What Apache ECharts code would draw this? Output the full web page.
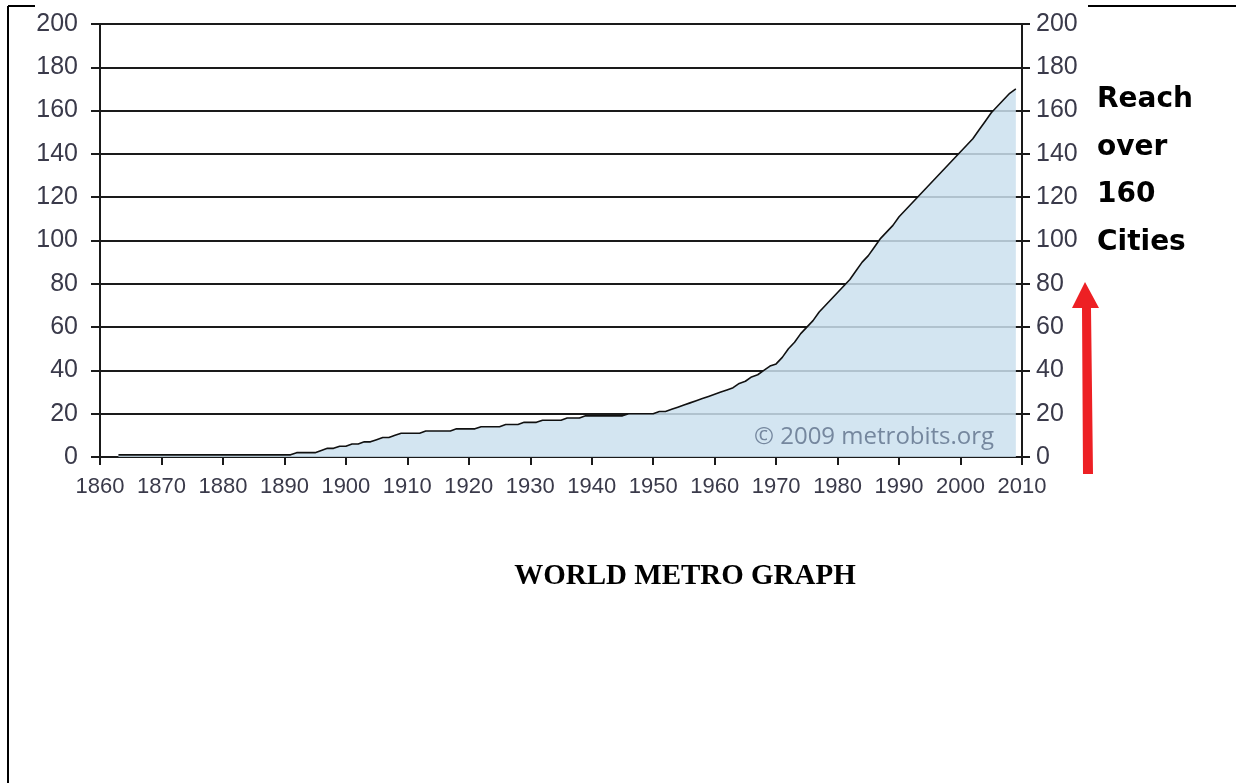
<!DOCTYPE html>
<html><head><meta charset="utf-8">
<script src="https://cdn.jsdelivr.net/npm/echarts@6/dist/echarts.min.js"></script>
<style>html,body{margin:0;padding:0;background:#fff}#c{width:1236px;height:783px}</style>
</head><body><div id="c"></div>
<script>
// ---- data ----
const years = [
  1863,1864,1865,1866,1867,1868,1869,
  1870,1871,1872,1873,1874,1875,1876,1877,1878,1879,
  1880,1881,1882,1883,1884,1885,1886,1887,1888,1889,
  1890,1891,1892,1893,1894,1895,1896,1897,1898,1899,
  1900,1901,1902,1903,1904,1905,1906,1907,1908,1909,
  1910,1911,1912,1913,1914,1915,1916,1917,1918,1919,
  1920,1921,1922,1923,1924,1925,1926,1927,1928,1929,
  1930,1931,1932,1933,1934,1935,1936,1937,1938,1939,
  1940,1941,1942,1943,1944,1945,1946,1947,1948,1949,
  1950,1951,1952,1953,1954,1955,1956,1957,1958,1959,
  1960,1961,1962,1963,1964,1965,1966,1967,1968,1969,
  1970,1971,1972,1973,1974,1975,1976,1977,1978,1979,
  1980,1981,1982,1983,1984,1985,1986,1987,1988,1989,
  1990,1991,1992,1993,1994,1995,1996,1997,1998,1999,
  2000,2001,2002,2003,2004,2005,2006,2007,2008,2009
];
const citiesWithMetro = [
  1,1,1,1,1,1,1,
  1,1,1,1,1,1,1,1,1,1,
  1,1,1,1,1,1,1,1,1,1,
  1,1,2,2,2,2,3,4,4,5,
  5,6,6,7,7,8,9,9,10,11,
  11,11,11,12,12,12,12,12,13,13,
  13,13,14,14,14,14,15,15,15,16,
  16,16,17,17,17,17,18,18,18,19,
  19,19,19,19,19,19,20,20,20,20,
  20,21,21,22,23,24,25,26,27,28,
  29,30,31,32,34,35,37,38,40,42,
  43,46,50,53,57,60,63,67,70,73,
  76,79,82,86,90,93,97,101,104,107,
  111,114,117,120,123,126,129,132,135,138,
  141,144,147,151,155,159,162,165,168,170
];
const chartTitle = 'WORLD METRO GRAPH';
const noteLines = ['Reach', 'over', '160', 'Cities'];
const watermark = '\u00A9 2009 metrobits.org';

// ---- chart ----
const chart = echarts.init(document.getElementById('c'), null, {renderer: 'canvas'});
const axisColor = '#1a1a1a';
const labelColor = '#3a3a4a';
const seriesData = years.map((y, i) => [y, citiesWithMetro[i]]);

const graphics = [
  // page frame
  {type: 'line', shape: {x1: 8, y1: 6, x2: 8, y2: 783}, style: {stroke: '#000', lineWidth: 2}, z: 100},
  {type: 'line', shape: {x1: 8, y1: 6, x2: 35, y2: 6}, style: {stroke: '#000', lineWidth: 2}, z: 100},
  {type: 'line', shape: {x1: 1088, y1: 6, x2: 1236, y2: 6}, style: {stroke: '#000', lineWidth: 2}, z: 100},
  // watermark
  {type: 'text', x: 754, y: 437, z: 100,
   style: {text: watermark, fill: '#75879e', font: '24px "Open Sans"', textAlign: 'left', textVerticalAlign: 'middle'}},
  // title
  {type: 'text', x: 685, y: 577, z: 100,
   style: {text: chartTitle, fill: '#000', font: 'bold 29px "Liberation Serif"', textAlign: 'center', textVerticalAlign: 'middle'}},
  // red arrow
  {type: 'polygon', z: 100,
   shape: {points: [[1082,308],[1072,308],[1085,282],[1099,308],[1091,308],[1093,474],[1083,474]]},
   style: {fill: '#ed2024'}}
];
const noteY = [100, 148, 195, 243];
noteLines.forEach((t, i) => {
  graphics.push({type: 'text', x: 1097, y: noteY[i], z: 100,
    style: {text: t, fill: '#000', font: 'bold 28px "DejaVu Sans"', textAlign: 'left', textVerticalAlign: 'middle'}});
});

const plainNum = v => String(v);
const yCommon = {
  type: 'value', min: 0, max: 200, interval: 20,
  axisLine: {show: true, onZero: false, lineStyle: {color: axisColor, width: 2}},
  axisTick: {show: true, inside: false, lineStyle: {color: axisColor, width: 2}},
  axisLabel: {show: true, fontSize: 25, color: labelColor, formatter: plainNum, fontFamily: '"Liberation Sans", Arial, sans-serif', showMinLabel: true, showMaxLabel: true}
};

chart.setOption({
  animation: false,
  backgroundColor: '#fff',
  grid: {left: 100, right: 214, top: 24, bottom: 326, containLabel: false},
  xAxis: {
    type: 'value', min: 1860, max: 2010, interval: 10,
    axisLine: {show: true, onZero: false, lineStyle: {color: axisColor, width: 2}},
    axisTick: {show: true, length: 8, lineStyle: {color: axisColor, width: 2}},
    axisLabel: {show: true, fontSize: 22, color: labelColor, margin: 19, formatter: plainNum, fontFamily: '"Liberation Sans", Arial, sans-serif', showMinLabel: true, showMaxLabel: true},
    splitLine: {show: false}
  },
  yAxis: [
    Object.assign({}, yCommon, {
      position: 'left',
      axisTick: Object.assign({}, yCommon.axisTick, {length: 9}),
      axisLabel: Object.assign({}, yCommon.axisLabel, {margin: 22}),
      splitLine: {show: true, lineStyle: {color: axisColor, width: 2}}
    }),
    Object.assign({}, yCommon, {
      position: 'right',
      axisTick: Object.assign({}, yCommon.axisTick, {length: 8}),
      axisLabel: Object.assign({}, yCommon.axisLabel, {margin: 14}),
      splitLine: {show: false}
    })
  ],
  series: [{
    type: 'line',
    data: seriesData,
    yAxisIndex: 0,
    showSymbol: false,
    symbol: 'none',
    lineStyle: {color: '#111', width: 1.6},
    areaStyle: {color: 'rgb(203,224,238)', opacity: 0.85, origin: 0},
    z: 3
  }],
  graphic: graphics
});
</script>
</body></html>
